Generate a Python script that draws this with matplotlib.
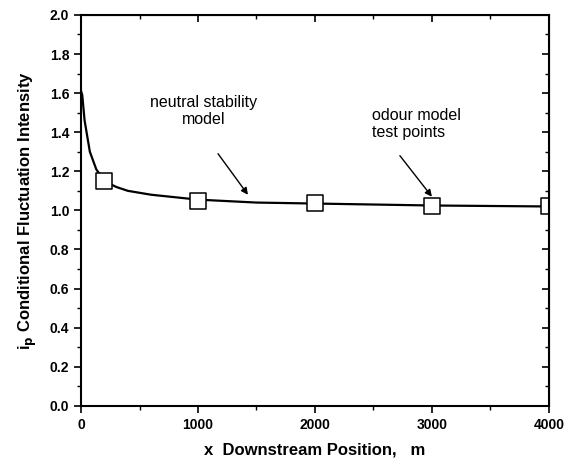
import matplotlib
matplotlib.use('Agg')
import matplotlib.pyplot as plt
from matplotlib.ticker import MultipleLocator

plt.rcParams['font.family'] = ['Liberation Sans', 'DejaVu Sans']

# Model curve (neutral stability)
x_model = [0, 10, 30, 75, 130, 200, 300, 400, 600, 1000, 1500, 2000, 3000, 4000]
y_model = [1.61, 1.59, 1.46, 1.30, 1.21, 1.15, 1.12, 1.10, 1.08, 1.055, 1.04, 1.035, 1.025, 1.02]

# Odour model test points
x_test = [200, 1000, 2000, 3000, 4000]
y_test = [1.15, 1.05, 1.04, 1.02, 1.02]

fig = plt.figure(figsize=(5.67, 4.67), dpi=100)
ax = fig.add_axes([0.143, 0.131, 0.825, 0.837])

ax.plot(x_model, y_model, color='black', linewidth=1.6)
ax.scatter(x_test, y_test, marker='s', s=11**2, facecolors='white',
           edgecolors='black', linewidths=1.1, zorder=3, clip_on=True)

ax.set_xlim(0, 4000)
ax.set_ylim(0, 2.0)
ax.xaxis.set_major_locator(MultipleLocator(1000))
ax.xaxis.set_minor_locator(MultipleLocator(500))
ax.yaxis.set_major_locator(MultipleLocator(0.2))
ax.yaxis.set_minor_locator(MultipleLocator(0.1))
ax.set_yticklabels([f'{v:.1f}' for v in ax.get_yticks()])

for s in ax.spines.values():
    s.set_linewidth(1.5)
    s.set_zorder(4)

ax.tick_params(axis='both', which='major', direction='out', length=5, width=1.2,
               labelsize=10)
ax.tick_params(axis='both', which='minor', direction='out', length=3, width=1.0)
for lab in ax.get_xticklabels() + ax.get_yticklabels():
    lab.set_fontweight('bold')

# mirrored ticks on top and right pointing in
axt = ax.secondary_xaxis('top')
axt.xaxis.set_major_locator(MultipleLocator(1000))
axt.xaxis.set_minor_locator(MultipleLocator(500))
axt.tick_params(which='major', direction='in', length=5, width=1.2, labeltop=False)
axt.tick_params(which='minor', direction='in', length=3, width=1.0)
axr = ax.secondary_yaxis('right')
axr.yaxis.set_major_locator(MultipleLocator(0.2))
axr.yaxis.set_minor_locator(MultipleLocator(0.1))
axr.tick_params(which='major', direction='in', length=5, width=1.2, labelright=False)
axr.tick_params(which='minor', direction='in', length=3, width=1.0)

ax.set_xlabel('x  Downstream Position,   m', fontsize=12, fontweight='bold', labelpad=8)
ax.set_ylabel(r'i$_\mathbf{p}$ Conditional Fluctuation Intensity', fontsize=12,
              fontweight='bold', labelpad=8)

# annotation texts
ax.text(1045, 1.51, 'neutral stability\nmodel', ha='center', va='center',
        fontsize=11.5, linespacing=1.15)
ax.text(2487, 1.44, 'odour model\ntest points', ha='left', va='center',
        fontsize=11.5, linespacing=1.15)

# annotation arrows
arrow = dict(arrowstyle='-|>', color='black', lw=1.0, shrinkA=0, shrinkB=0,
             mutation_scale=10)
ax.annotate('', xy=(1427, 1.08), xytext=(1171, 1.29), arrowprops=arrow)
ax.annotate('', xy=(3000, 1.07), xytext=(2726, 1.28), arrowprops=arrow)

fig.savefig('out.png', dpi=100)
